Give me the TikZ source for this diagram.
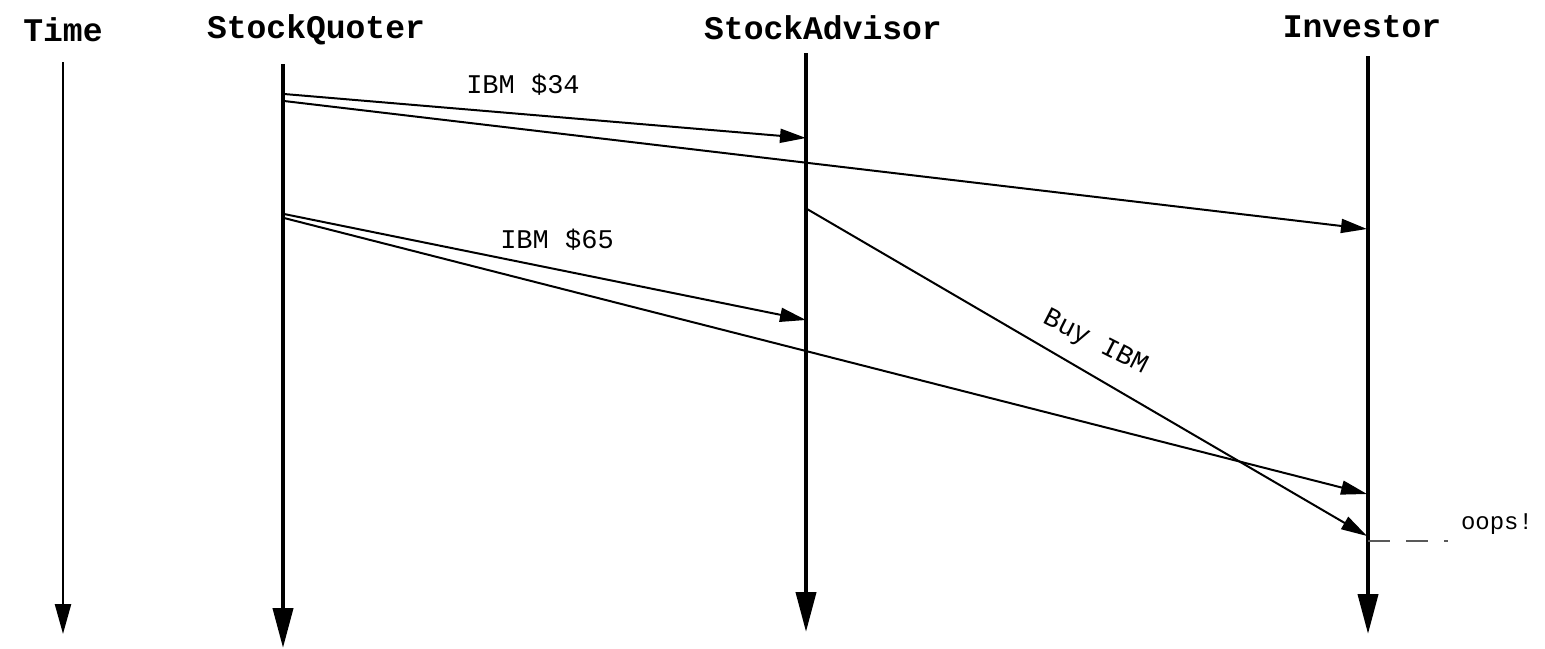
\documentclass[tikz,border=0pt]{standalone}
\usepackage{fontspec}
\setmonofont{Liberation Mono}
\usetikzlibrary{arrows.meta}
\begin{document}
\begin{tikzpicture}[x=0.5pt,y=-0.5pt,
  header/.style={font=\ttfamily\bfseries\fontsize{16.5}{18}\selectfont, inner sep=0pt},
  msglabel/.style={font=\ttfamily\fontsize{13.5}{15}\selectfont, inner sep=0pt},
  thinaxis/.style={line width=1.2pt, -{Triangle[length=15pt,width=8pt]}},
  thickaxis/.style={line width=2pt, -{Triangle[length=20pt,width=10pt]}},
  msg/.style={line width=1pt, -{Triangle[length=13pt,width=7pt]}},
  plainmsg/.style={line width=1pt}]
\useasboundingbox (0,0) rectangle (1545,648);
% headers
\node[header] (time) at (63,30) {Time};
\node[header] (sq) at (316,30) {StockQuoter};
\node[header] (sa) at (823,28) {StockAdvisor};
\node[header] (inv) at (1362,27) {Investor};
% axes endpoints
\coordinate (t0) at (63,62);  \coordinate (t1) at (63,634);
\coordinate (q0) at (283,64); \coordinate (q1) at (283,648);
\coordinate (a0) at (806,53); \coordinate (a1) at (806,632);
\coordinate (i0) at (1368,56); \coordinate (i1) at (1368,634);
\draw[thinaxis] (t0) -- (t1);
\draw[thickaxis] (q0) -- (q1);
\draw[thickaxis] (a0) -- (a1);
\draw[thickaxis] (i0) -- (i1);
% message points
\coordinate (m1s) at (284,94);  \coordinate (m1e) at (806,138);
\coordinate (m2s) at (284,101); \coordinate (m2e) at (1367,229);
\coordinate (m3s) at (284,214); \coordinate (m3e) at (806,320);
\coordinate (m4s) at (284,218); \coordinate (m4e) at (1367,494);
\coordinate (m5s) at (807,209); \coordinate (m5e) at (1367,536);
\draw[msg] (m1s) -- (m1e);
\draw[msg] (m2s) -- (m2e);
\draw[msg] (m3s) -- (m3e);
\draw[msg] (m4s) -- (m4e);
\draw[msg] (m5s) -- (m5e);
\node[msglabel] (l1) at (523,85) {IBM \$34};
\node[msglabel] (l2) at (557,240) {IBM \$65};
\node[msglabel, rotate=-27] (l3) at (1095,343) {Buy IBM};
% oops
\coordinate (o0) at (1368,541);
\coordinate (o1) at (1448,541);
\draw[line width=1.2pt, gray!70!black, dash pattern=on 11pt off 8pt] (o0) -- (o1);
\node[msglabel, font=\ttfamily\fontsize{12}{14}\selectfont] (oops) at (1497,524) {oops!};
\end{tikzpicture}
\end{document}
